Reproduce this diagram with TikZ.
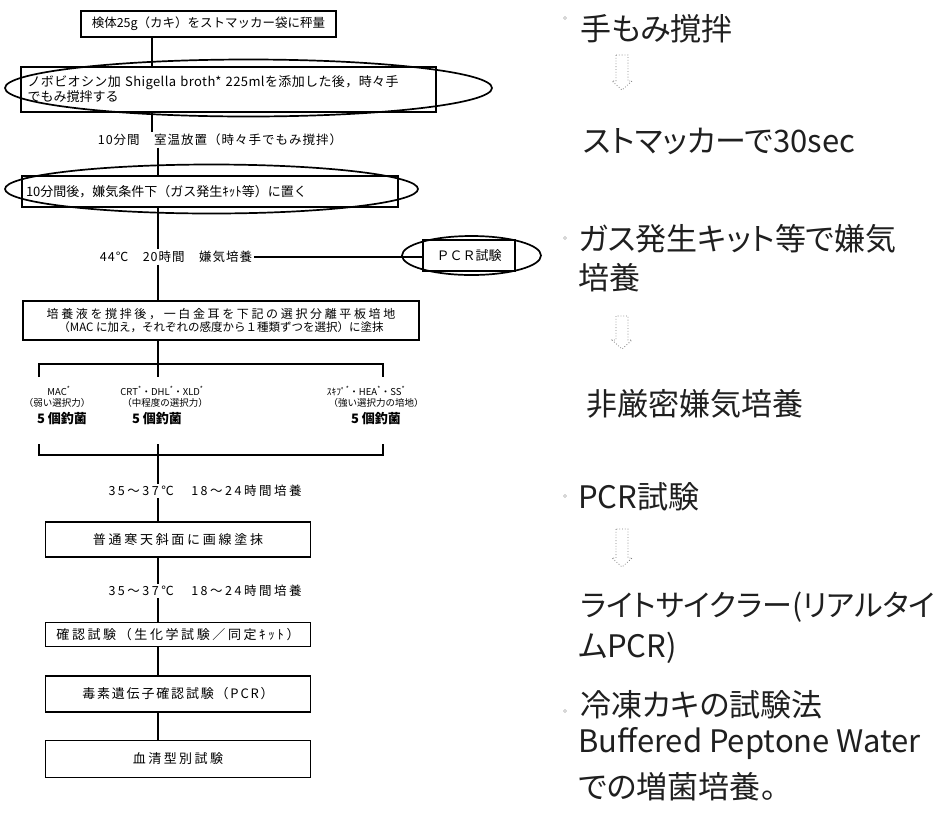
\documentclass[tikz,border=0pt]{standalone}
\usepackage{fontspec}
\usetikzlibrary{shapes.geometric}
\newfontfamily\jp{Noto Sans CJK JP}
\newfontfamily\jpp{Noto Sans CJK JP}[RawFeature=+palt]
\newcommand\lsp[2]{{\addfontfeature{LetterSpace=#1}#2}}
\newcommand\hollowarrow[3]{%
  \draw[darr] (#1-6,#2) -- (#1-6,#3-9) -- (#1-10,#3-9) -- (#1,#3) -- (#1+10,#3-9) -- (#1+6,#3-9) -- (#1+6,#2) -- cycle;}
\tikzset{
  fbox/.style={draw=black, line width=1.4pt, inner sep=2pt, font=\jp\fontsize{13}{15}\selectfont},
  lbl/.style={inner sep=1.5pt, font=\jp\fontsize{12.5}{14}\selectfont},
  oval/.style={draw=black, line width=1.7pt, ellipse, inner sep=0pt},
  spine/.style={line width=1.1pt, black},
  grp/.style={font=\jp\fontsize{9.5}{11}\selectfont, inner sep=0pt},
  grpb/.style={font=\jp\bfseries\fontsize{13}{14}\selectfont, inner sep=0pt},
  rtxt/.style={anchor=west, font=\jpp\fontsize{31}{36}\selectfont, inner sep=0pt, text=black!88},
  darr/.style={draw=gray, dotted, line width=0.8pt},
  bullet/.style={circle, draw=gray!60, inner sep=0pt, minimum size=3pt}
}
\begin{document}
\begin{tikzpicture}[x=1pt,y=-1pt]
\fill[white] (0,0) rectangle (942,815);
\useasboundingbox (0,0) rectangle (942,815);

% ---- boxes ----
\node[fbox, minimum width=255pt, minimum height=26pt, font=\jp\fontsize{12.5}{14}\selectfont] (b1) at (208.5,24) {検体25g（カキ）をストマッカー袋に秤量};
\node[fbox, minimum width=415pt, minimum height=45pt, text width=402pt, align=left] (b2) at (228.5,89.5)
  {\lsp{3}{ノボビオシン加 Shigella broth* 225mlを添加した後，時々手}\\でもみ撹拌する};
\node[fbox, minimum width=376pt, minimum height=31pt, text width=368pt, align=left] (b3) at (210,191.5)
  {10分間後，嫌気条件下（ガス発生ｷｯﾄ等）に置く};
\node[fbox, minimum width=92pt, minimum height=31pt] (pcr) at (469,255.5) {ＰＣＲ試験};
\node[fbox, minimum width=396pt, minimum height=39pt, align=center, font=\jp\fontsize{12}{13.5}\selectfont] (b4) at (221,320.5)
  {\lsp{22}{培養液を撹拌後，一白金耳を下記の選択分離平板培地}\\{\fontsize{11.5}{13}\selectfont（MAC に加え，それぞれの感度から１種類ずつを選択）に塗抹}};
\node[fbox, minimum width=265pt, minimum height=35pt] (b5) at (178,539.5) {\lsp{21}{普通寒天斜面に画線塗抹}};
\node[fbox, minimum width=265pt, minimum height=24pt] (b6) at (178,634.5) {\lsp{20}{確認試験（生化学試験／同定ｷｯﾄ）}};
\node[fbox, minimum width=265pt, minimum height=36pt] (b7) at (178,694) {\lsp{14}{毒素遺伝子確認試験（PCR）}};
\node[fbox, minimum width=265pt, minimum height=37pt] (b8) at (178,759) {\lsp{19}{血清型別試験}};

% ---- labels on the spine ----
\node[lbl] (l1) at (220,140) {\lsp{8}{10分間　室温放置（時々手でもみ撹拌）}};
\node[lbl] (l2) at (176,257) {\lsp{8}{44℃　20時間　嫌気培養}};
\node[lbl] (l3) at (205,491) {\lsp{20}{35～37℃　18～24時間培養}};
\node[lbl] (l4) at (205,591) {\lsp{20}{35～37℃　18～24時間培養}};

% ---- spine ----
\coordinate (sa) at (152,0);
\coordinate (sb) at (158,0);
\draw[spine] (b1.south -| sa) -- (b2.north -| sa);
\draw[spine] (b2.south -| sa) -- (l1.north -| sa);
\draw[spine] (l1.south -| sb) -- (b3.north -| sb);
\draw[spine] (b3.south -| sb) -- (l2.north -| sb);
\draw[spine] (l2.south -| sb) -- (b4.north -| sb);
\draw[spine] (l2.east) -- (l2.east -| pcr.west);

% ---- branch brackets ----
\coordinate (bl) at (39,364);
\coordinate (bm) at (158,364);
\coordinate (br) at (383,364);
\coordinate (ql) at (39,455);
\coordinate (qm) at (158,455);
\coordinate (qr) at (383,455);
\draw[spine] (b4.south -| sb) -- (bm);
\draw[spine] (bl) ++(0,13) -- (bl) -- (br) -- ++(0,13);
\draw[spine] (bm) -- ++(0,13);
\draw[spine] (ql) ++(0,-11) -- (ql) -- (qr) -- ++(0,-11);
\draw[spine] (qm) ++(0,-11) -- (qm);
\draw[spine] (qm) -- (l3.north -| sb);
\draw[spine] (l3.south -| sb) -- (b5.north -| sb);
\draw[spine] (b5.south -| sb) -- (l4.north -| sb);
\draw[spine] (l4.south -| sb) -- (b6.north -| sb);
\draw[spine] (b6.south -| sb) -- (b7.north -| sb);
\draw[spine] (b7.south -| sb) -- (b8.north -| sb);

% ---- media groups ----
\node[grp] (g1a) at (59,391) {MAC\textsuperscript{*}};
\node[grp] (g1b) at (57,403) {（弱い選択力）};
\node[grpb] (g1c) at (62,419) {5 個釣菌};
\node[grp] (g2a) at (162,391) {CRT\textsuperscript{*}・DHL\textsuperscript{*}・XLD\textsuperscript{*}};
\node[grp] (g2b) at (165,403) {（中程度の選択力）};
\node[grpb] (g2c) at (157,419) {5 個釣菌};
\node[grp] (g3a) at (366,391) {ｽｷﾌﾟ\textsuperscript{*}・HEA\textsuperscript{*}・SS\textsuperscript{*}};
\node[grp] (g3b) at (376,403) {（強い選択力の培地）};
\node[grpb] (g3c) at (376,419) {5 個釣菌};

% ---- hand-drawn ovals ----
\node[oval, minimum width=487pt, minimum height=57pt] (o1) at (248.5,88) {};
\node[oval, minimum width=413pt, minimum height=49pt] (o2) at (211.5,189) {};
\node[oval, minimum width=139pt, minimum height=39pt] (o3) at (471.5,255.5) {};

% ---- right column ----
\node[bullet] (d1) at (565,18) {};
\node[bullet] (d2) at (565,238) {};
\node[bullet] (d3) at (565,496) {};
\node[bullet] (d4) at (565,711) {};
\node[rtxt] (r1) at (580,29) {手もみ撹拌};
\node[rtxt] (r2) at (583,141) {ストマッカーで30sec};
\node[rtxt] (r3) at (578,239) {ガス発生キット等で嫌気};
\node[rtxt] (r4) at (578,278) {培養};
\node[rtxt] (r5) at (586,404) {非厳密嫌気培養};
\node[rtxt] (r6) at (578,497) {PCR試験};
\node[rtxt, font=\jpp\fontsize{30}{36}\selectfont] (r7) at (580,607) {ライトサイクラー(リアルタイ};
\node[rtxt] (r8) at (578,648) {ムPCR)};
\node[rtxt] (r9) at (580,705) {冷凍カキの試験法};
\node[rtxt] (r10) at (578,743) {Buffered Peptone Water};
\node[rtxt] (r11) at (578,787) {での増菌培養。};
\hollowarrow{622}{55}{90}
\hollowarrow{622}{316}{349}
\hollowarrow{622}{529}{567}
\end{tikzpicture}
\end{document}
